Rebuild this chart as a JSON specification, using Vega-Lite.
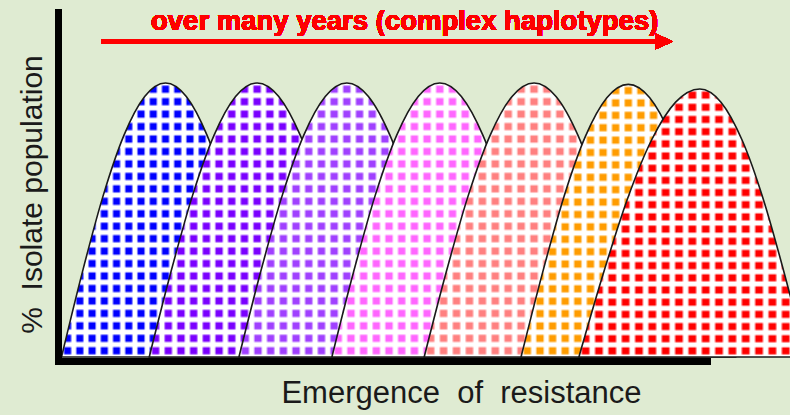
{
  "$schema": "https://vega.github.io/schema/vega-lite/v6.json",
  "width": 650,
  "height": 348,
  "autosize": {"type": "none"},
  "padding": {"left": 61.5, "top": 9, "right": 78.5, "bottom": 58},
  "background": "#dfebd2",
  "config": {
    "view": {"stroke": null},
    "style": {
      "hb": {"color": {"gradient": "linear", "x1": 0, "y1": 0, "x2": 0, "y2": 1, "stops": [
        {"offset": 0, "color": "#ffffff"},
        {"offset": 0.0055, "color": "#ffffff"}, {"offset": 0.0136, "color": "rgba(255,255,255,0)"}, {"offset": 0.0318, "color": "rgba(255,255,255,0)"}, {"offset": 0.0400, "color": "#ffffff"},
        {"offset": 0.0509, "color": "#ffffff"}, {"offset": 0.0591, "color": "rgba(255,255,255,0)"}, {"offset": 0.0773, "color": "rgba(255,255,255,0)"}, {"offset": 0.0855, "color": "#ffffff"},
        {"offset": 0.0964, "color": "#ffffff"}, {"offset": 0.1045, "color": "rgba(255,255,255,0)"}, {"offset": 0.1227, "color": "rgba(255,255,255,0)"}, {"offset": 0.1309, "color": "#ffffff"},
        {"offset": 0.1418, "color": "#ffffff"}, {"offset": 0.1500, "color": "rgba(255,255,255,0)"}, {"offset": 0.1682, "color": "rgba(255,255,255,0)"}, {"offset": 0.1764, "color": "#ffffff"},
        {"offset": 0.1873, "color": "#ffffff"}, {"offset": 0.1955, "color": "rgba(255,255,255,0)"}, {"offset": 0.2136, "color": "rgba(255,255,255,0)"}, {"offset": 0.2218, "color": "#ffffff"},
        {"offset": 0.2327, "color": "#ffffff"}, {"offset": 0.2409, "color": "rgba(255,255,255,0)"}, {"offset": 0.2591, "color": "rgba(255,255,255,0)"}, {"offset": 0.2673, "color": "#ffffff"},
        {"offset": 0.2782, "color": "#ffffff"}, {"offset": 0.2864, "color": "rgba(255,255,255,0)"}, {"offset": 0.3045, "color": "rgba(255,255,255,0)"}, {"offset": 0.3127, "color": "#ffffff"},
        {"offset": 0.3236, "color": "#ffffff"}, {"offset": 0.3318, "color": "rgba(255,255,255,0)"}, {"offset": 0.3500, "color": "rgba(255,255,255,0)"}, {"offset": 0.3582, "color": "#ffffff"},
        {"offset": 0.3691, "color": "#ffffff"}, {"offset": 0.3773, "color": "rgba(255,255,255,0)"}, {"offset": 0.3955, "color": "rgba(255,255,255,0)"}, {"offset": 0.4036, "color": "#ffffff"},
        {"offset": 0.4145, "color": "#ffffff"}, {"offset": 0.4227, "color": "rgba(255,255,255,0)"}, {"offset": 0.4409, "color": "rgba(255,255,255,0)"}, {"offset": 0.4491, "color": "#ffffff"},
        {"offset": 0.4600, "color": "#ffffff"}, {"offset": 0.4682, "color": "rgba(255,255,255,0)"}, {"offset": 0.4864, "color": "rgba(255,255,255,0)"}, {"offset": 0.4945, "color": "#ffffff"},
        {"offset": 0.5055, "color": "#ffffff"}, {"offset": 0.5136, "color": "rgba(255,255,255,0)"}, {"offset": 0.5318, "color": "rgba(255,255,255,0)"}, {"offset": 0.5400, "color": "#ffffff"},
        {"offset": 0.5509, "color": "#ffffff"}, {"offset": 0.5591, "color": "rgba(255,255,255,0)"}, {"offset": 0.5773, "color": "rgba(255,255,255,0)"}, {"offset": 0.5855, "color": "#ffffff"},
        {"offset": 0.5964, "color": "#ffffff"}, {"offset": 0.6045, "color": "rgba(255,255,255,0)"}, {"offset": 0.6227, "color": "rgba(255,255,255,0)"}, {"offset": 0.6309, "color": "#ffffff"},
        {"offset": 0.6418, "color": "#ffffff"}, {"offset": 0.6500, "color": "rgba(255,255,255,0)"}, {"offset": 0.6682, "color": "rgba(255,255,255,0)"}, {"offset": 0.6764, "color": "#ffffff"},
        {"offset": 0.6873, "color": "#ffffff"}, {"offset": 0.6955, "color": "rgba(255,255,255,0)"}, {"offset": 0.7136, "color": "rgba(255,255,255,0)"}, {"offset": 0.7218, "color": "#ffffff"},
        {"offset": 0.7327, "color": "#ffffff"}, {"offset": 0.7409, "color": "rgba(255,255,255,0)"}, {"offset": 0.7591, "color": "rgba(255,255,255,0)"}, {"offset": 0.7673, "color": "#ffffff"},
        {"offset": 0.7782, "color": "#ffffff"}, {"offset": 0.7864, "color": "rgba(255,255,255,0)"}, {"offset": 0.8045, "color": "rgba(255,255,255,0)"}, {"offset": 0.8127, "color": "#ffffff"},
        {"offset": 0.8236, "color": "#ffffff"}, {"offset": 0.8318, "color": "rgba(255,255,255,0)"}, {"offset": 0.8500, "color": "rgba(255,255,255,0)"}, {"offset": 0.8582, "color": "#ffffff"},
        {"offset": 0.8691, "color": "#ffffff"}, {"offset": 0.8773, "color": "rgba(255,255,255,0)"}, {"offset": 0.8955, "color": "rgba(255,255,255,0)"}, {"offset": 0.9036, "color": "#ffffff"},
        {"offset": 0.9145, "color": "#ffffff"}, {"offset": 0.9227, "color": "rgba(255,255,255,0)"}, {"offset": 0.9409, "color": "rgba(255,255,255,0)"}, {"offset": 0.9491, "color": "#ffffff"},
        {"offset": 0.9600, "color": "#ffffff"}, {"offset": 0.9682, "color": "rgba(255,255,255,0)"}, {"offset": 0.9864, "color": "rgba(255,255,255,0)"}, {"offset": 0.9945, "color": "#ffffff"},
        {"offset": 1, "color": "#ffffff"}
      ]}},
      "vb": {"color": {"gradient": "linear", "x1": 0, "y1": 0, "x2": 1, "y2": 0, "stops": [
        {"offset": 0, "color": "#ffffff"},
        {"offset": 0.0071, "color": "#ffffff"}, {"offset": 0.0176, "color": "rgba(255,255,255,0)"}, {"offset": 0.0412, "color": "rgba(255,255,255,0)"}, {"offset": 0.0518, "color": "#ffffff"},
        {"offset": 0.0659, "color": "#ffffff"}, {"offset": 0.0765, "color": "rgba(255,255,255,0)"}, {"offset": 0.1000, "color": "rgba(255,255,255,0)"}, {"offset": 0.1106, "color": "#ffffff"},
        {"offset": 0.1247, "color": "#ffffff"}, {"offset": 0.1353, "color": "rgba(255,255,255,0)"}, {"offset": 0.1588, "color": "rgba(255,255,255,0)"}, {"offset": 0.1694, "color": "#ffffff"},
        {"offset": 0.1835, "color": "#ffffff"}, {"offset": 0.1941, "color": "rgba(255,255,255,0)"}, {"offset": 0.2176, "color": "rgba(255,255,255,0)"}, {"offset": 0.2282, "color": "#ffffff"},
        {"offset": 0.2424, "color": "#ffffff"}, {"offset": 0.2529, "color": "rgba(255,255,255,0)"}, {"offset": 0.2765, "color": "rgba(255,255,255,0)"}, {"offset": 0.2871, "color": "#ffffff"},
        {"offset": 0.3012, "color": "#ffffff"}, {"offset": 0.3118, "color": "rgba(255,255,255,0)"}, {"offset": 0.3353, "color": "rgba(255,255,255,0)"}, {"offset": 0.3459, "color": "#ffffff"},
        {"offset": 0.3600, "color": "#ffffff"}, {"offset": 0.3706, "color": "rgba(255,255,255,0)"}, {"offset": 0.3941, "color": "rgba(255,255,255,0)"}, {"offset": 0.4047, "color": "#ffffff"},
        {"offset": 0.4188, "color": "#ffffff"}, {"offset": 0.4294, "color": "rgba(255,255,255,0)"}, {"offset": 0.4529, "color": "rgba(255,255,255,0)"}, {"offset": 0.4635, "color": "#ffffff"},
        {"offset": 0.4776, "color": "#ffffff"}, {"offset": 0.4882, "color": "rgba(255,255,255,0)"}, {"offset": 0.5118, "color": "rgba(255,255,255,0)"}, {"offset": 0.5224, "color": "#ffffff"},
        {"offset": 0.5365, "color": "#ffffff"}, {"offset": 0.5471, "color": "rgba(255,255,255,0)"}, {"offset": 0.5706, "color": "rgba(255,255,255,0)"}, {"offset": 0.5812, "color": "#ffffff"},
        {"offset": 0.5953, "color": "#ffffff"}, {"offset": 0.6059, "color": "rgba(255,255,255,0)"}, {"offset": 0.6294, "color": "rgba(255,255,255,0)"}, {"offset": 0.6400, "color": "#ffffff"},
        {"offset": 0.6541, "color": "#ffffff"}, {"offset": 0.6647, "color": "rgba(255,255,255,0)"}, {"offset": 0.6882, "color": "rgba(255,255,255,0)"}, {"offset": 0.6988, "color": "#ffffff"},
        {"offset": 0.7129, "color": "#ffffff"}, {"offset": 0.7235, "color": "rgba(255,255,255,0)"}, {"offset": 0.7471, "color": "rgba(255,255,255,0)"}, {"offset": 0.7576, "color": "#ffffff"},
        {"offset": 0.7718, "color": "#ffffff"}, {"offset": 0.7824, "color": "rgba(255,255,255,0)"}, {"offset": 0.8059, "color": "rgba(255,255,255,0)"}, {"offset": 0.8165, "color": "#ffffff"},
        {"offset": 0.8306, "color": "#ffffff"}, {"offset": 0.8412, "color": "rgba(255,255,255,0)"}, {"offset": 0.8647, "color": "rgba(255,255,255,0)"}, {"offset": 0.8753, "color": "#ffffff"},
        {"offset": 0.8894, "color": "#ffffff"}, {"offset": 0.9000, "color": "rgba(255,255,255,0)"}, {"offset": 0.9235, "color": "rgba(255,255,255,0)"}, {"offset": 0.9341, "color": "#ffffff"},
        {"offset": 0.9482, "color": "#ffffff"}, {"offset": 0.9588, "color": "rgba(255,255,255,0)"}, {"offset": 0.9824, "color": "rgba(255,255,255,0)"}, {"offset": 0.9929, "color": "#ffffff"},
        {"offset": 1, "color": "#ffffff"}
      ]}}
    }
  },
  "data": {"values": [
    {"s": "blue", "x": 0, "y": 0}, {"s": "blue", "x": 3.2, "y": 30.9}, {"s": "blue", "x": 6.4, "y": 58.8}, {"s": "blue", "x": 9.6, "y": 80.9}, {"s": "blue", "x": 12.8, "y": 95.1}, {"s": "blue", "x": 16, "y": 100}, {"s": "blue", "x": 19.2, "y": 95.1}, {"s": "blue", "x": 22.4, "y": 80.9}, {"s": "blue", "x": 25.6, "y": 58.8}, {"s": "blue", "x": 28.8, "y": 30.9}, {"s": "blue", "x": 32, "y": 0},
    {"s": "purple", "x": 13.5, "y": 0}, {"s": "purple", "x": 16.82, "y": 30.9}, {"s": "purple", "x": 20.14, "y": 58.8}, {"s": "purple", "x": 23.46, "y": 80.9}, {"s": "purple", "x": 26.78, "y": 95.1}, {"s": "purple", "x": 30.1, "y": 100}, {"s": "purple", "x": 33.42, "y": 95.1}, {"s": "purple", "x": 36.74, "y": 80.9}, {"s": "purple", "x": 40.06, "y": 58.8}, {"s": "purple", "x": 43.38, "y": 30.9}, {"s": "purple", "x": 46.7, "y": 0},
    {"s": "violet", "x": 27.3, "y": 0}, {"s": "violet", "x": 30.62, "y": 30.9}, {"s": "violet", "x": 33.94, "y": 58.8}, {"s": "violet", "x": 37.26, "y": 80.9}, {"s": "violet", "x": 40.58, "y": 95.1}, {"s": "violet", "x": 43.9, "y": 100}, {"s": "violet", "x": 47.22, "y": 95.1}, {"s": "violet", "x": 50.54, "y": 80.9}, {"s": "violet", "x": 53.86, "y": 58.8}, {"s": "violet", "x": 57.18, "y": 30.9}, {"s": "violet", "x": 60.5, "y": 0},
    {"s": "magenta", "x": 41.6, "y": 0}, {"s": "magenta", "x": 44.92, "y": 30.9}, {"s": "magenta", "x": 48.24, "y": 58.8}, {"s": "magenta", "x": 51.56, "y": 80.9}, {"s": "magenta", "x": 54.88, "y": 95.1}, {"s": "magenta", "x": 58.2, "y": 100}, {"s": "magenta", "x": 61.52, "y": 95.1}, {"s": "magenta", "x": 64.84, "y": 80.9}, {"s": "magenta", "x": 68.16, "y": 58.8}, {"s": "magenta", "x": 71.48, "y": 30.9}, {"s": "magenta", "x": 74.8, "y": 0},
    {"s": "salmon", "x": 55.8, "y": 0}, {"s": "salmon", "x": 59.18, "y": 30.9}, {"s": "salmon", "x": 62.56, "y": 58.8}, {"s": "salmon", "x": 65.94, "y": 80.9}, {"s": "salmon", "x": 69.32, "y": 95.1}, {"s": "salmon", "x": 72.7, "y": 100}, {"s": "salmon", "x": 76.08, "y": 95.1}, {"s": "salmon", "x": 79.46, "y": 80.9}, {"s": "salmon", "x": 82.84, "y": 58.8}, {"s": "salmon", "x": 86.22, "y": 30.9}, {"s": "salmon", "x": 89.6, "y": 0},
    {"s": "orange", "x": 70.7, "y": 0}, {"s": "orange", "x": 74.0, "y": 30.7}, {"s": "orange", "x": 77.3, "y": 58.5}, {"s": "orange", "x": 80.6, "y": 80.5}, {"s": "orange", "x": 83.9, "y": 94.6}, {"s": "orange", "x": 87.2, "y": 99.5}, {"s": "orange", "x": 90.5, "y": 94.6}, {"s": "orange", "x": 93.8, "y": 80.5}, {"s": "orange", "x": 97.1, "y": 58.5}, {"s": "orange", "x": 100.4, "y": 30.7}, {"s": "orange", "x": 103.7, "y": 0},
    {"s": "red", "x": 79.6, "y": 0}, {"s": "red", "x": 83.32, "y": 30.2}, {"s": "red", "x": 87.04, "y": 57.5}, {"s": "red", "x": 90.76, "y": 79.1}, {"s": "red", "x": 94.48, "y": 93.0}, {"s": "red", "x": 98.2, "y": 97.8}, {"s": "red", "x": 101.46, "y": 93.0}, {"s": "red", "x": 104.72, "y": 79.1}, {"s": "red", "x": 107.98, "y": 57.5}, {"s": "red", "x": 111.24, "y": 30.2}, {"s": "red", "x": 114.5, "y": 0}
  ]},
  "encoding": {
    "x": {"field": "x", "type": "quantitative", "scale": {"domain": [0, 100], "nice": false, "zero": false},
      "axis": {"domain": false, "ticks": false, "labels": false, "grid": false, "title": "Emergence\u00a0 of\u00a0 resistance", "titleFont": "Liberation Sans", "titleFontSize": 31, "titleFontWeight": "normal", "titleColor": "#1a1a1a", "titleX": 399.5, "titleY": 45, "titleBaseline": "alphabetic", "titleAlign": "center"}},
    "y": {"field": "y", "type": "quantitative", "stack": null, "scale": {"domain": [0, 127], "nice": false},
      "axis": {"domain": false, "ticks": false, "labels": false, "grid": false, "title": "%\u00a0 Isolate population", "titleFont": "Liberation Sans", "titleFontSize": 30, "titleFontWeight": "normal", "titleColor": "#1a1a1a", "titleX": -19.8, "titleY": 185, "titleAngle": 270, "titleBaseline": "alphabetic", "titleAlign": "center"}}
  },
  "layer": [
    {"transform": [{"filter": {"field": "s", "equal": "blue"}}], "mark": {"type": "area", "interpolate": "monotone", "fill": "#0000ff"}},
    {"transform": [{"filter": {"field": "s", "equal": "blue"}}], "mark": {"type": "area", "interpolate": "monotone", "style": "hb"}},
    {"transform": [{"filter": {"field": "s", "equal": "blue"}}], "mark": {"type": "area", "interpolate": "monotone", "style": "vb", "stroke": "#1a1a1a", "strokeWidth": 1.6}},
    {"transform": [{"filter": {"field": "s", "equal": "purple"}}], "mark": {"type": "area", "interpolate": "monotone", "fill": "#7a00ff"}},
    {"transform": [{"filter": {"field": "s", "equal": "purple"}}], "mark": {"type": "area", "interpolate": "monotone", "style": "hb"}},
    {"transform": [{"filter": {"field": "s", "equal": "purple"}}], "mark": {"type": "area", "interpolate": "monotone", "style": "vb", "stroke": "#1a1a1a", "strokeWidth": 1.6}},
    {"transform": [{"filter": {"field": "s", "equal": "violet"}}], "mark": {"type": "area", "interpolate": "monotone", "fill": "#a040ff"}},
    {"transform": [{"filter": {"field": "s", "equal": "violet"}}], "mark": {"type": "area", "interpolate": "monotone", "style": "hb"}},
    {"transform": [{"filter": {"field": "s", "equal": "violet"}}], "mark": {"type": "area", "interpolate": "monotone", "style": "vb", "stroke": "#1a1a1a", "strokeWidth": 1.6}},
    {"transform": [{"filter": {"field": "s", "equal": "magenta"}}], "mark": {"type": "area", "interpolate": "monotone", "fill": "#ff66ff"}},
    {"transform": [{"filter": {"field": "s", "equal": "magenta"}}], "mark": {"type": "area", "interpolate": "monotone", "style": "hb"}},
    {"transform": [{"filter": {"field": "s", "equal": "magenta"}}], "mark": {"type": "area", "interpolate": "monotone", "style": "vb", "stroke": "#1a1a1a", "strokeWidth": 1.6}},
    {"transform": [{"filter": {"field": "s", "equal": "salmon"}}], "mark": {"type": "area", "interpolate": "monotone", "fill": "#ff8080"}},
    {"transform": [{"filter": {"field": "s", "equal": "salmon"}}], "mark": {"type": "area", "interpolate": "monotone", "style": "hb"}},
    {"transform": [{"filter": {"field": "s", "equal": "salmon"}}], "mark": {"type": "area", "interpolate": "monotone", "style": "vb", "stroke": "#1a1a1a", "strokeWidth": 1.6}},
    {"transform": [{"filter": {"field": "s", "equal": "orange"}}], "mark": {"type": "area", "interpolate": "monotone", "fill": "#ff9c00"}},
    {"transform": [{"filter": {"field": "s", "equal": "orange"}}], "mark": {"type": "area", "interpolate": "monotone", "style": "hb"}},
    {"transform": [{"filter": {"field": "s", "equal": "orange"}}], "mark": {"type": "area", "interpolate": "monotone", "style": "vb", "stroke": "#1a1a1a", "strokeWidth": 1.6}},
    {"transform": [{"filter": {"field": "s", "equal": "red"}}], "mark": {"type": "area", "interpolate": "monotone", "fill": "#ff0000"}},
    {"transform": [{"filter": {"field": "s", "equal": "red"}}], "mark": {"type": "area", "interpolate": "monotone", "style": "hb"}},
    {"transform": [{"filter": {"field": "s", "equal": "red"}}], "mark": {"type": "area", "interpolate": "monotone", "style": "vb", "stroke": "#1a1a1a", "strokeWidth": 1.6}},
    {"mark": {"type": "rule", "color": "#000000", "strokeWidth": 6}, "encoding": {"x": {"datum": -0.46}, "y": {"datum": 127}, "y2": {"datum": -2.92}}},
    {"mark": {"type": "rule", "color": "#000000", "strokeWidth": 6}, "encoding": {"x": {"datum": -1.0}, "x2": {"datum": 99.9}, "y": {"datum": -1.64}}},
    {"mark": {"type": "rule", "color": "#ff0000", "strokeWidth": 4}, "encoding": {"x": {"datum": 6.08}, "x2": {"datum": 91.6}, "y": {"datum": 115.15}}},
    {"mark": {"type": "point", "shape": "M-1,-0.9L1,0L-1,0.9Z", "size": 324, "filled": true, "color": "#ff0000", "opacity": 1, "strokeWidth": 0}, "encoding": {"x": {"datum": 92.69}, "y": {"datum": 115.15}}},
    {"mark": {"type": "text", "text": "over many years (complex haplotypes)", "font": "Liberation Sans", "fontSize": 27.5, "fontWeight": "bold", "fill": "#ff0000", "strokeWidth": 0, "align": "center", "baseline": "alphabetic"}, "encoding": {"x": {"datum": 52.8}, "y": {"datum": 119.3}}}
  ]
}
